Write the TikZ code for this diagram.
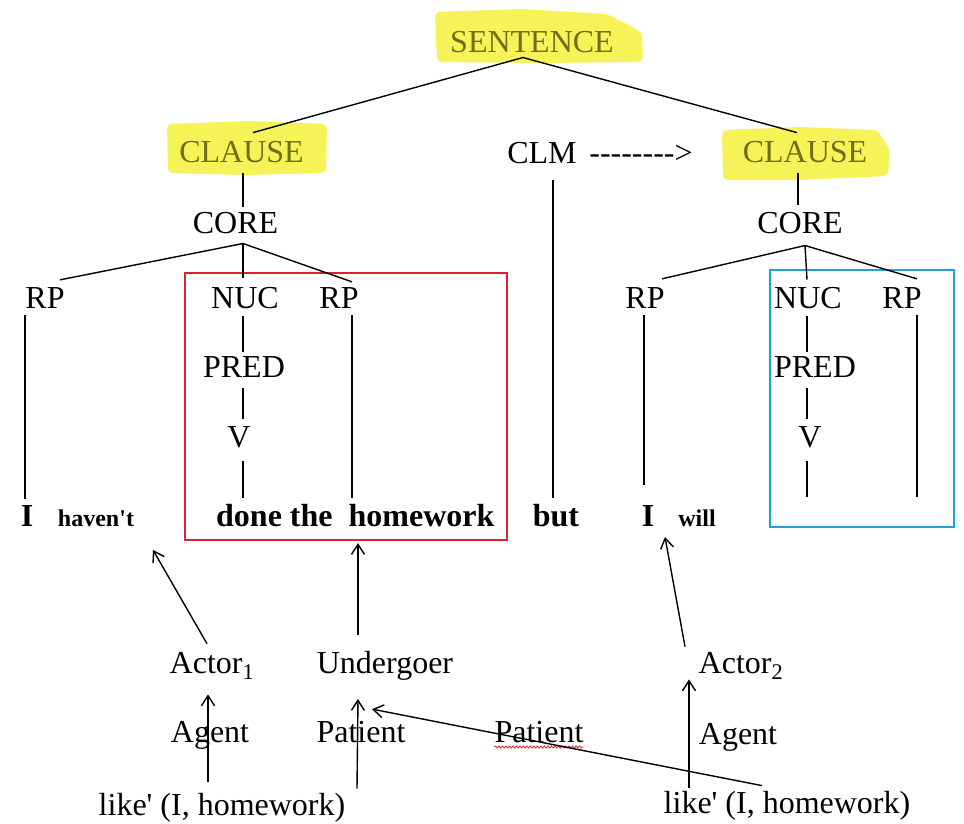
\documentclass[tikz,border=0pt]{standalone}
\usepackage{fontspec}
\setmainfont{Liberation Serif}[Ligatures=TeXOff]
\usetikzlibrary{arrows.meta,decorations.pathmorphing}
\definecolor{hlyellow}{RGB}{246,243,88}
\definecolor{hltext}{RGB}{112,110,22}
\definecolor{boxred}{RGB}{222,32,48}
\definecolor{boxblue}{RGB}{32,162,214}
\definecolor{spellred}{RGB}{230,40,40}

\begin{document}
\begin{tikzpicture}[x=1pt,y=-1pt,
  lbl/.style={font=\fontsize{32}{38}\selectfont, inner sep=0pt, anchor=base},
  hl/.style={lbl, text=hltext},
  word/.style={lbl, font=\fontsize{32}{38}\selectfont\bfseries},
  smallword/.style={lbl, font=\fontsize{24}{28}\selectfont\bfseries},
  branch/.style={line width=1.4pt},
  link/.style={line width=1.4pt, -{Straight Barb[length=10pt,width=13pt]}},
  marker/.style={fill=hlyellow},
  frame/.style={line width=2.2pt}
]
\fill[white] (0,0) rectangle (964,824);
\useasboundingbox (0,0) rectangle (964,824);

% highlighter strokes behind the top labels
\fill[marker, rounded corners=5pt] (435,12) -- (520,9) -- (607,14) -- (642,32)
  -- (643,62) -- (540,63) -- (437,62) -- cycle;
\fill[marker, rounded corners=5pt] (167,124) -- (250,121) -- (327,124)
  -- (326,173) -- (245,175) -- (168,173) -- cycle;
\fill[marker, rounded corners=5pt] (722,130) -- (800,127) -- (877,130)
  -- (890,150) -- (888,176) -- (800,180) -- (723,180) -- cycle;

% top level
\node[hl] (sent) at (532,53) {SENTENCE};
\node[hl] (clA)  at (241.5,163) {CLAUSE};
\node[lbl] (clm) at (542,164) {CLM};
\node[lbl] (clmarrow) at (641,164) {-------->};
\node[hl] (clB)  at (805,163) {CLAUSE};
\node[lbl] (coreA) at (235.5,233) {CORE};
\node[lbl] (coreB) at (800,233) {CORE};

% first clause
\node[lbl] (rpA1) at (45,308) {RP};
\node[lbl] (nucA) at (245,308) {NUC};
\node[lbl] (rpA2) at (339,308) {RP};
\node[lbl] (predA) at (244,377) {PRED};
\node[lbl] (vA) at (239,447) {V};

% second clause
\node[lbl] (rpB1) at (645,308) {RP};
\node[lbl] (nucB) at (808,308) {NUC};
\node[lbl] (rpB2) at (902,308) {RP};
\node[lbl] (predB) at (815,377) {PRED};
\node[lbl] (vB) at (810,447) {V};

% the sentence
\node[word] (I1) at (27,526) {I};
\node[smallword] (havent) at (96,526) {haven't};
\node[word, anchor=base west] (done) at (216,526) {done the\ \ homework};
\node[word] (but) at (556,526) {but};
\node[word] (I2) at (648,526) {I};
\node[smallword] (will) at (697,526) {will};

% frames
\node[frame, draw=boxred, inner sep=0pt, minimum width=322pt, minimum height=267pt]
  (redbox) at (346,406.5) {};
\node[frame, draw=boxblue, inner sep=0pt, minimum width=184pt, minimum height=257pt]
  (bluebox) at (862,398.5) {};

% semantic roles
\node[lbl] (actor1) at (212,673) {Actor\textsubscript{1}};
\node[lbl] (under) at (385,673) {Undergoer};
\node[lbl] (agent1) at (210,742) {Agent};
\node[lbl] (patient1) at (361,742) {Patient};
\node[lbl] (patient2) at (539,742) {Patient};
\node[lbl] (like1) at (222,815) {like' (I, homework)};
\node[lbl] (actor2) at (741,673) {Actor\textsubscript{2}};
\node[lbl] (agent2) at (738,744) {Agent};
\node[lbl] (like2) at (787,813) {like' (I, homework)};

\draw[spellred, line width=0.8pt, decorate,
  decoration={snake, amplitude=1.1pt, segment length=3.5pt}]
  ([yshift=-5pt]patient2.base west) -- ([yshift=-5pt]patient2.base east);

% tree branches
\draw[branch] ([xshift=-9pt,yshift=-4pt]sent.south) -- ([xshift=11.5pt,yshift=9pt]clA.north);
\draw[branch] ([xshift=-9pt,yshift=-4pt]sent.south) -- ([xshift=-8pt,yshift=9pt]clB.north);
\draw[branch] ([xshift=1.5pt,yshift=-9pt]clA.south) -- ([xshift=7.5pt,yshift=5pt]coreA.north);
\draw[branch] ([xshift=-7pt,yshift=-9pt]clB.south) -- ([xshift=-2pt,yshift=7pt]coreB.north);

\coordinate (apA) at ([xshift=7.5pt,yshift=-10pt]coreA.south);
\draw[branch] (apA) -- ([xshift=15pt,yshift=7pt]rpA1.north);
\draw[branch] (apA) -- ([xshift=-2pt,yshift=9pt]nucA.north);
\draw[branch] (apA) -- ([xshift=13pt,yshift=5pt]rpA2.north);

\coordinate (apB) at ([xshift=5pt,yshift=-12pt]coreB.south);
\draw[branch] (apB) -- ([xshift=17pt,yshift=8pt]rpB1.north);
\draw[branch] (apB) -- ([xshift=-1pt,yshift=7pt]nucB.north);
\draw[branch] (apB) -- ([xshift=15pt,yshift=8pt]rpB2.north);

\draw[branch] ([xshift=-20pt,yshift=-7pt]rpA1.south) -- ([xshift=-2pt,yshift=6pt]I1.north);
\draw[branch] ([xshift=-2pt,yshift=-7pt]nucA.south) -- ([xshift=-1pt,yshift=4pt]predA.north);
\draw[branch] ([xshift=-1pt,yshift=-11pt]predA.south) -- ([xshift=4pt,yshift=7pt]vA.north);
\draw[branch] ([xshift=4pt,yshift=-13pt]vA.south) -- ([xshift=4pt,yshift=6pt]vA.south |- done.north);
\draw[branch] ([xshift=13pt,yshift=-7pt]rpA2.south) -- ([xshift=13pt,yshift=6pt]rpA2.south |- done.north);
\draw[branch] ([xshift=11pt,yshift=-15pt]clm.south) -- ([xshift=-3pt,yshift=6pt]but.north);

\coordinate (vBend) at (807,497);
\coordinate (rpBend) at (917,497);
\draw[branch] ([xshift=-1pt,yshift=-7pt]rpB1.south) -- ([xshift=-4pt,yshift=20pt]I2.north);
\draw[branch] ([xshift=-1pt,yshift=-7pt]nucB.south) -- ([xshift=-8pt,yshift=4pt]predB.north);
\draw[branch] ([xshift=-8pt,yshift=-11pt]predB.south) -- ([xshift=-3pt,yshift=7pt]vB.north);
\draw[branch] ([xshift=-3pt,yshift=-13pt]vB.south) -- (vBend);
\draw[branch] ([xshift=15pt,yshift=-7pt]rpB2.south) -- (rpBend);

% linking arrows
\coordinate (hvTip) at (153,550);
\draw[link] ([xshift=-5pt,yshift=8pt]actor1.north) -- (hvTip);
\draw[link] ([xshift=-27pt,yshift=16pt]under.north) -- ([xshift=12pt,yshift=-2pt]redbox.south);
\coordinate (wlTip) at (665,537);
\draw[link] ([xshift=-56pt,yshift=5pt]actor2.north) -- (wlTip);
\draw[link] ([xshift=-14pt,yshift=11pt]like1.north) -- ([xshift=-4pt,yshift=-15pt]actor1.south);
\draw[link] ([xshift=135pt,yshift=4pt]like1.north) -- ([xshift=-27pt,yshift=-19pt]under.south);
\draw[link] ([xshift=-98pt,yshift=3pt]like2.north) -- ([xshift=-52pt,yshift=0pt]actor2.south);
\draw[link] ([xshift=-25pt,yshift=5pt]like2.north) -- ([xshift=-13pt,yshift=-29pt]under.south);
\end{tikzpicture}
\end{document}
